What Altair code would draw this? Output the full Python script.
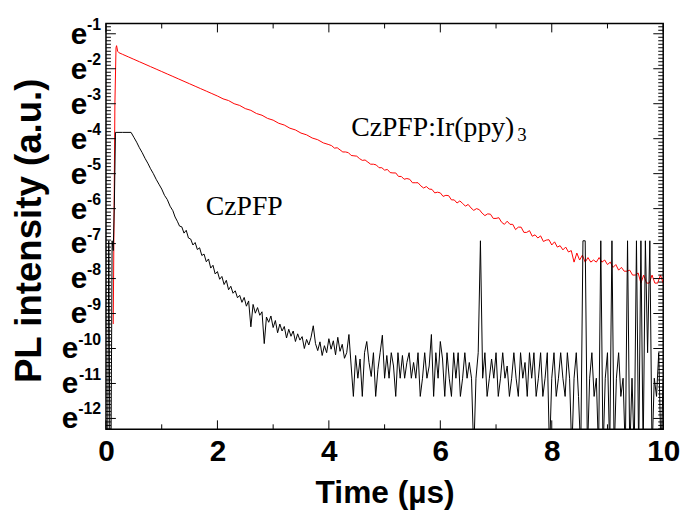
import math
import pandas as pd
import altair as alt

# ---------------- data: time (µs) and ln(PL intensity) ----------------
# CzPFP:Ir(ppy)3 (red)
red_t_head = [0.13, 0.16, 0.18, 0.19, 0.21, 0.23]
red_n_head = [-9.3, -3.0, -1.40, -1.34, -1.50, -1.54]
# t = 0.3 .. 4.0, every 0.1 µs
red_n_mid = [-1.59, -1.66, -1.73, -1.80, -1.87, -1.94, -2.01, -2.08, -2.15, -2.22,
             -2.29, -2.36, -2.43, -2.50, -2.57, -2.64, -2.71, -2.78, -2.86, -2.91,
             -3.00, -3.05, -3.14, -3.19, -3.28, -3.33, -3.42, -3.47, -3.56, -3.61,
             -3.70, -3.75, -3.84, -3.89, -3.98, -4.03, -4.12, -4.17]
# t = 4.05 .. 10.00, every 0.05 µs
red_n_tail = [-4.20, -4.27, -4.26, -4.32, -4.38, -4.38, -4.40, -4.48, -4.49, -4.50,
              -4.57, -4.62, -4.61, -4.67, -4.73, -4.73, -4.75, -4.83, -4.83, -4.90,
              -4.88, -4.97, -4.98, -4.98, -5.08, -5.08, -5.16, -5.14, -5.16, -5.26,
              -5.26, -5.26, -5.35, -5.41, -5.37, -5.44, -5.45, -5.55, -5.53, -5.55,
              -5.65, -5.62, -5.63, -5.75, -5.75, -5.84, -5.78, -5.85, -5.93, -5.88,
              -5.98, -6.05, -6.00, -6.03, -6.13, -6.20, -6.15, -6.16, -6.28, -6.28,
              -6.26, -6.39, -6.45, -6.36, -6.45, -6.45, -6.60, -6.53, -6.53, -6.68,
              -6.68, -6.63, -6.79, -6.75, -6.84, -6.78, -6.94, -6.90, -6.89, -7.04,
              -6.95, -7.10, -7.06, -7.18, -7.10, -7.24, -7.20, -7.53, -7.27, -7.47,
              -7.33, -7.53, -7.40, -7.53, -7.47, -7.53, -7.40, -7.53, -7.47, -7.60,
              -7.53, -7.68, -7.60, -7.76, -7.68, -7.79, -7.79, -7.76, -7.90, -7.90,
              -7.84, -8.13, -7.90, -8.13, -8.13, -7.90, -8.13, -8.13, -7.90, -8.13]

# CzPFP (black)
black_t_head = [0.00, 0.03, 0.05, 0.07, 0.09, 0.11, 0.13, 0.15, 0.17, 0.30, 0.45, 0.50,
                0.55, 0.60, 0.65, 0.70, 0.75, 0.80, 0.85, 0.90, 0.95, 1.00, 1.05, 1.10,
                1.15, 1.20, 1.24, 1.28]
black_n_head = [-13.0, -13.0, -6.92, -13.0, -13.0, -6.92, -7.20, -5.90, -3.82, -3.82, -3.82, -3.96,
                -4.10, -4.26, -4.40, -4.56, -4.70, -4.86, -5.00, -5.16, -5.30, -5.44, -5.62, -5.74,
                -5.93, -6.06, -6.24, -6.36]
# t = 1.32 .. 10.00, every 0.04 µs
black_n_tail = [
    -6.50, -6.52, -6.70, -6.62, -6.84, -6.87, -7.04, -6.97, -7.17, -7.12, -7.34, -7.30, -7.52,
    -7.44, -7.70, -7.62, -7.87, -7.80, -8.02, -7.94, -8.17, -8.05, -8.32, -8.22, -8.42,
    -8.35, -8.55, -8.48, -8.68, -8.54, -8.79, -8.64, -9.38, -8.74, -8.99, -8.83, -9.05, -8.95,
    -9.86, -9.10, -9.25, -9.07, -9.40, -9.20, -9.55, -9.30, -9.50, -9.37, -9.70, -9.45,
    -9.65, -9.50, -9.80, -9.58, -9.76, -9.66, -10.00, -9.74, -9.90, -9.68, -9.35, -9.86, -10.06,
    -9.81, -10.20, -9.92, -10.12, -9.72, -10.02, -9.78, -10.18, -9.68, -10.08, -9.88, -10.28,
    -10.12, -9.60, -10.50, -11.37, -10.20, -10.85, -10.30, -11.37, -10.12, -9.80, -10.40, -10.80, -10.12,
    -11.37, -10.60, -10.12, -9.62, -10.85, -10.20, -10.85, -10.12, -10.50, -11.37, -10.12, -10.85,
    -10.20, -10.85, -10.40, -10.12, -10.85, -10.40, -10.85, -10.12, -11.37, -10.85, -10.12, -10.85, -10.50,
    -9.60, -11.37, -10.12, -10.85, -9.80, -10.30, -11.37, -10.12, -10.85, -11.37, -10.12, -10.85,
    -10.12, -11.37, -10.85, -10.12, -10.85, -10.40, -10.85, -13.0, -10.85, -10.12, -6.92, -10.85, -10.12,
    -11.37, -10.85, -10.30, -10.85, -10.12, -11.37, -10.85, -10.12, -10.85, -10.50, -11.37, -10.85,
    -10.12, -10.85, -11.37, -10.12, -10.85, -10.40, -11.37, -10.12, -10.85, -10.12, -11.37, -10.85, -10.12,
    -11.37, -10.85, -10.12, -13.0, -10.85, -10.12, -11.37, -10.85, -10.12, -10.85, -11.37, -10.12,
    -10.85, -13.0, -10.85, -10.12, -11.37, -13.0, -6.92, -6.92, -13.0, -10.85, -10.12, -11.37, -10.85,
    -13.0, -6.92, -13.0, -10.85, -10.12, -13.0, -6.92, -13.0, -10.85, -10.12, -11.37, -10.85,
    -13.0, -6.92, -13.0, -10.85, -13.0, -6.92, -13.0, -6.92, -13.0, -6.92, -10.12, -6.92, -13.0,
    -10.85, -11.37, -10.12, -13.0, -10.85]

x_major = [0, 2, 4, 6, 8, 10]
x_minor = [1, 3, 5, 7, 9]
y_exponents = list(range(1, 13))
label_cz = "CzPFP"
label_ir = "CzPFP:Ir(ppy)"
label_sub = "3"


def build(t_parts, n_parts, name):
    rows = []
    for t_list, n_list in zip(t_parts, n_parts):
        for t, n in zip(t_list, n_list):
            rows.append({"x": t, "y": math.exp(n), "s": name})
    return pd.DataFrame(rows)


red_df = build(
    [red_t_head,
     [round(0.3 + 0.1 * i, 3) for i in range(len(red_n_mid))],
     [round(4.05 + 0.05 * i, 3) for i in range(len(red_n_tail))]],
    [red_n_head, red_n_mid, red_n_tail], "red")
black_df = build(
    [black_t_head, [round(1.32 + 0.04 * i, 3) for i in range(len(black_n_tail))]],
    [black_n_head, black_n_tail], "black")

W, H = 563, 410
xs = alt.Scale(domain=[0, 10], nice=False, zero=False)
ys = alt.Scale(type="log", base=math.e, domain=[math.exp(-12.31), math.exp(-0.706)], nice=False)

SANS = "Liberation Sans"
SERIF = "Liberation Serif"

x_axis = alt.Axis(values=x_major, format="d", labelFont=SANS, labelFontSize=30, labelFontWeight="bold",
                  labelColor="black", labelBaseline="alphabetic", labelPadding=32, labelFlush=False,
                  labelOverlap=False, ticks=False, tickSize=0, domain=False, grid=False,
                  title="Time (µs)", titleFont=SANS, titleFontSize=32, titleFontWeight="bold",
                  titleColor="black", titleBaseline="alphabetic", titleY=74)
y_axis = alt.Axis(labels=False, ticks=False, tickSize=0, domain=False, grid=False,
                  title="PL intensity (a.u.)", titleFont=SANS, titleFontSize=37, titleFontWeight="bold",
                  titleColor="black", titleBaseline="alphabetic", titleAngle=270, titleX=-66, titleY=209)

red_line = alt.Chart(red_df).mark_line(color="#ff0000", strokeWidth=1, clip=True).encode(
    x=alt.X("x:Q", scale=xs, axis=x_axis), y=alt.Y("y:Q", scale=ys, axis=y_axis))
black_line = alt.Chart(black_df).mark_line(color="#000000", strokeWidth=1, clip=True).encode(
    x=alt.X("x:Q", scale=xs), y=alt.Y("y:Q", scale=ys))

xmaj = pd.DataFrame({"x": x_major})
xmin = pd.DataFrame({"x": x_minor})
ymaj = pd.DataFrame({"y": [math.exp(-k) for k in y_exponents]})
ymin_vals = []
for k in range(0, 13):
    for j in range(1, 10):
        n = -k - 0.1 * j
        if -12.31 < n < -0.706:
            ymin_vals.append(math.exp(n))
ymin = pd.DataFrame({"y": ymin_vals})


def xticks(df, length):
    rule = alt.Chart(df).mark_rule(color="black", strokeWidth=1)
    bottom = rule.encode(x=alt.X("x:Q", scale=xs), y=alt.value(H), y2=alt.value(H - length))
    top = rule.encode(x=alt.X("x:Q", scale=xs), y=alt.value(0), y2=alt.value(length))
    return [bottom, top]


def yticks(df, length):
    rule = alt.Chart(df).mark_rule(color="black", strokeWidth=1)
    left = rule.encode(y=alt.Y("y:Q", scale=ys), x=alt.value(0), x2=alt.value(length))
    right = rule.encode(y=alt.Y("y:Q", scale=ys), x=alt.value(W), x2=alt.value(W - length))
    return [left, right]


lab_df = pd.DataFrame({"y": [math.exp(-k) for k in y_exponents],
                       "k": y_exponents,
                       "ex": ["-" + str(k) for k in y_exponents]})
e_single = alt.Chart(lab_df).transform_filter("datum.k < 10").mark_text(
    text="e", font=SANS, fontSize=30, fontWeight="bold", color="black",
    align="right", baseline="alphabetic", dy=10).encode(y=alt.Y("y:Q", scale=ys), x=alt.value(-19))
e_double = alt.Chart(lab_df).transform_filter("datum.k >= 10").mark_text(
    text="e", font=SANS, fontSize=30, fontWeight="bold", color="black",
    align="right", baseline="alphabetic", dy=10).encode(y=alt.Y("y:Q", scale=ys), x=alt.value(-28))
e_exp = alt.Chart(lab_df).mark_text(
    font=SANS, fontSize=16, fontWeight="bold", color="black",
    align="right", baseline="alphabetic", dy=-4).encode(
    y=alt.Y("y:Q", scale=ys), x=alt.value(-5), text="ex:N")

ann_df = pd.DataFrame({"x": [1.79, 4.40], "y": [math.exp(-6.19), math.exp(-3.93)],
                       "label": [label_cz, label_ir]})
sub_df = pd.DataFrame({"x": [7.38], "y": [math.exp(-4.07)], "label": [label_sub]})
ann = alt.Chart(ann_df).mark_text(font=SERIF, fontSize=28, color="black", align="left",
                                  baseline="alphabetic").encode(
    x=alt.X("x:Q", scale=xs), y=alt.Y("y:Q", scale=ys), text="label:N")
sub = alt.Chart(sub_df).mark_text(font=SERIF, fontSize=19, color="black", align="left",
                                  baseline="alphabetic").encode(
    x=alt.X("x:Q", scale=xs), y=alt.Y("y:Q", scale=ys), text="label:N")

layers = [red_line, black_line] + xticks(xmaj, 9) + xticks(xmin, 5) + yticks(ymaj, 10) + yticks(ymin, 5) \
    + [e_single, e_double, e_exp, ann, sub]

chart = alt.layer(*layers).properties(
    width=W, height=H,
    autosize=alt.AutoSizeParams(type="none"),
    padding={"left": 99, "top": 13, "right": 20, "bottom": 88},
    background="white",
).configure_view(stroke="black", strokeWidth=1.5)

chart.save("out.html", embed_options={"renderer": "svg", "actions": False})
